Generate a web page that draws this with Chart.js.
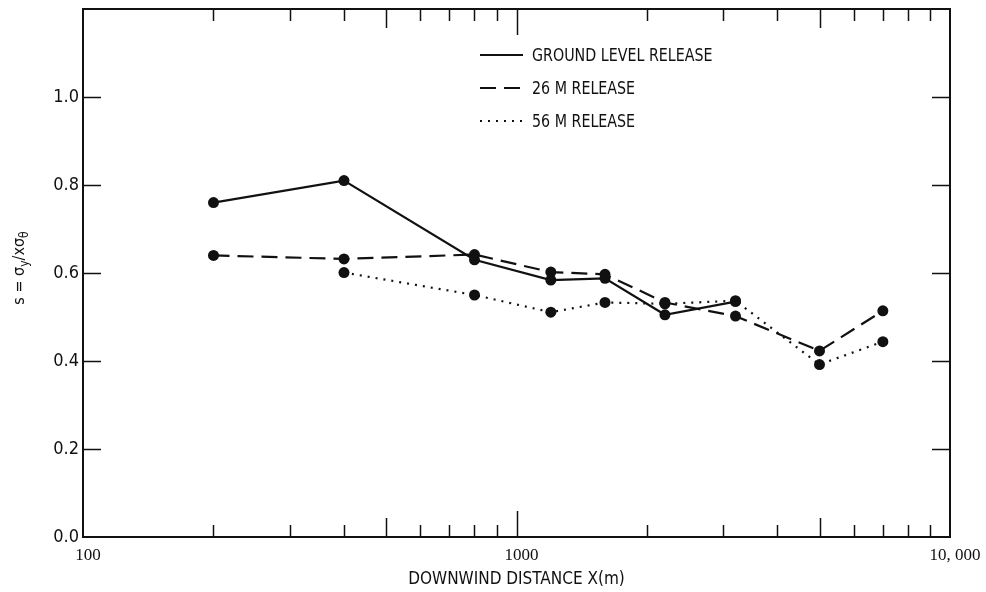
<!DOCTYPE html>
<html>
<head>
<meta charset="utf-8">
<script src="https://cdn.jsdelivr.net/npm/chart.js@4.4.1/dist/chart.umd.min.js"></script>
<style>
  html, body { margin: 0; padding: 0; background: #fff; }
  #wrap { width: 986px; height: 592px; }
</style>
</head>
<body>
<div id="wrap"><canvas id="graphic-1"></canvas></div>
<script>
// valores
const distGround = [200, 400, 800, 1200, 1600, 2200, 3200];
const sGround = [0.76, 0.81, 0.63, 0.584, 0.588, 0.505, 0.535];

const dist26 = [200, 400, 800, 1200, 1600, 2200, 3200, 5000, 7000];
const s26 = [0.64, 0.632, 0.642, 0.602, 0.597, 0.533, 0.502, 0.423, 0.514];

const dist56 = [400, 800, 1200, 1600, 2200, 3200, 5000, 7000];
const s56 = [0.601, 0.55, 0.511, 0.533, 0.53, 0.537, 0.392, 0.444];

const seriesNames = ['GROUND LEVEL RELEASE', '26 M RELEASE', '56 M RELEASE'];

const xTickValues = [100, 200, 300, 400, 500, 600, 700, 800, 900,
  1000, 2000, 3000, 4000, 5000, 6000, 7000, 8000, 9000, 10000];
const xTickLabels = { 100: '100', 1000: '1000', 10000: '10, 000' };
const yTickValues = [0, 0.2, 0.4, 0.6, 0.8, 1.0, 1.2];

const ink = '#111';
const narrow = "'Liberation Sans Narrow', 'DejaVu Sans Condensed', sans-serif";

const toPoints = (xs, ys) => xs.map((x, i) => ({ x: x, y: ys[i] }));

// moldura + marcas internas (como no original)
const framePlugin = {
  id: 'frame',
  afterDraw(chart) {
    const { ctx, chartArea: a } = chart;
    const xs = chart.scales.x, ys = chart.scales.y;
    ctx.save();
    ctx.strokeStyle = ink;
    ctx.lineWidth = 2;
    ctx.strokeRect(a.left, a.top, a.right - a.left, a.bottom - a.top);
    ctx.lineWidth = 1.5;
    ctx.beginPath();
    xs.ticks.forEach(t => {
      if (t.value <= xs.min || t.value >= xs.max) return;
      const px = Math.round(xs.getPixelForValue(t.value)) + 0.5;
      const m = t.value / Math.pow(10, Math.floor(Math.log10(t.value) + 1e-9));
      let len = 12;
      if (Math.abs(m - 1) < 1e-6) len = 26;
      else if (Math.abs(m - 5) < 1e-6) len = 19;
      ctx.moveTo(px, a.bottom); ctx.lineTo(px, a.bottom - len);
      ctx.moveTo(px, a.top); ctx.lineTo(px, a.top + len);
    });
    ys.ticks.forEach(t => {
      if (t.value <= ys.min + 1e-9 || t.value >= ys.max - 1e-9) return;
      const py = Math.round(ys.getPixelForValue(t.value)) + 0.5;
      ctx.moveTo(a.left, py); ctx.lineTo(a.left + 18, py);
      ctx.moveTo(a.right, py); ctx.lineTo(a.right - 18, py);
    });
    ctx.stroke();
    ctx.restore();
  }
};

// legenda desenhada dentro da area do grafico
const legendPlugin = {
  id: 'innerLegend',
  afterDraw(chart) {
    const ctx = chart.ctx;
    const rows = [55, 88, 121];
    ctx.save();
    chart.data.datasets.forEach((ds, i) => {
      ctx.strokeStyle = ds.borderColor;
      ctx.lineWidth = ds.borderWidth;
      ctx.setLineDash(ds.borderDash || []);
      ctx.beginPath();
      ctx.moveTo(480, rows[i]);
      ctx.lineTo(523, rows[i]);
      ctx.stroke();
      ctx.setLineDash([]);
      // texto um pouco condensado
      ctx.save();
      ctx.translate(532, rows[i] + 1);
      ctx.scale(0.88, 1);
      ctx.fillStyle = ink;
      ctx.font = '18px ' + narrow;
      ctx.textBaseline = 'middle';
      ctx.textAlign = 'left';
      ctx.fillText(ds.label, 0, 0);
      ctx.restore();
    });
    ctx.restore();
  }
};

// titulo do eixo y com subscritos
const yTitlePlugin = {
  id: 'yTitle',
  afterDraw(chart) {
    const ctx = chart.ctx;
    const parts = [
      { t: 's = \u03C3', sub: false },
      { t: 'y', sub: true },
      { t: '/x\u03C3', sub: false },
      { t: '\u03B8', sub: true }
    ];
    ctx.save();
    ctx.translate(20, 268);
    ctx.rotate(-Math.PI / 2);
    ctx.fillStyle = ink;
    ctx.textBaseline = 'middle';
    ctx.textAlign = 'left';
    let total = 0;
    parts.forEach(p => {
      ctx.font = (p.sub ? '12px ' : '16px ') + narrow;
      p.w = ctx.measureText(p.t).width;
      total += p.w;
    });
    let x = -total / 2;
    parts.forEach(p => {
      ctx.font = (p.sub ? '12px ' : '16px ') + narrow;
      ctx.fillText(p.t, x, p.sub ? 5 : 0);
      x += p.w;
    });
    ctx.restore();
  }
};

const ctx = document.getElementById('graphic-1').getContext('2d');

new Chart(ctx, {
  type: 'line',
  data: {
    datasets: [{
      label: seriesNames[0],
      data: toPoints(distGround, sGround),
      borderColor: ink,
      borderWidth: 2.2,
      pointRadius: 5.5,
      pointBackgroundColor: ink,
      pointBorderWidth: 0
    }, {
      label: seriesNames[1],
      data: toPoints(dist26, s26),
      borderColor: ink,
      borderWidth: 2.2,
      borderDash: [16, 8],
      pointRadius: 5.5,
      pointBackgroundColor: ink,
      pointBorderWidth: 0
    }, {
      label: seriesNames[2],
      data: toPoints(dist56, s56),
      borderColor: ink,
      borderWidth: 2.2,
      borderDash: [2, 6],
      pointRadius: 5.5,
      pointBackgroundColor: ink,
      pointBorderWidth: 0
    }]
  },
  options: {
    responsive: true,
    maintainAspectRatio: false,
    animation: false,
    layout: { padding: { top: 9, right: 36, left: 0, bottom: 0 } },
    plugins: {
      legend: { display: false },
      tooltip: { enabled: false }
    },
    scales: {
      x: {
        type: 'logarithmic',
        min: 100,
        max: 10000,
        afterBuildTicks: scale => { scale.ticks = xTickValues.map(v => ({ value: v })); },
        afterFit: scale => { scale.height = 55; },
        grid: { display: false, drawTicks: false },
        border: { display: false },
        ticks: {
          autoSkip: false,
          maxRotation: 0,
          padding: 8,
          labelOffset: 5,
          color: ink,
          font: { family: "'Liberation Serif', 'DejaVu Serif', serif", size: 17 },
          callback: value => xTickLabels[value] || ''
        },
        title: {
          display: true,
          text: 'DOWNWIND DISTANCE X(m)',
          color: ink,
          font: { family: narrow, size: 17 },
          padding: { top: 0, bottom: 2 }
        }
      },
      y: {
        min: 0,
        max: 1.2,
        afterBuildTicks: scale => { scale.ticks = yTickValues.map(v => ({ value: v })); },
        afterFit: scale => { scale.width = 83; scale.paddingTop = 0; },
        grid: { display: false, drawTicks: false },
        border: { display: false },
        ticks: {
          padding: 4,
          color: ink,
          font: { family: narrow, size: 18 },
          // sem rotulo no topo (1.2)
          callback: value => value >= 1.19 ? null : value.toFixed(1)
        }
      }
    }
  },
  plugins: [framePlugin, legendPlugin, yTitlePlugin]
});
</script>
</body>
</html>
